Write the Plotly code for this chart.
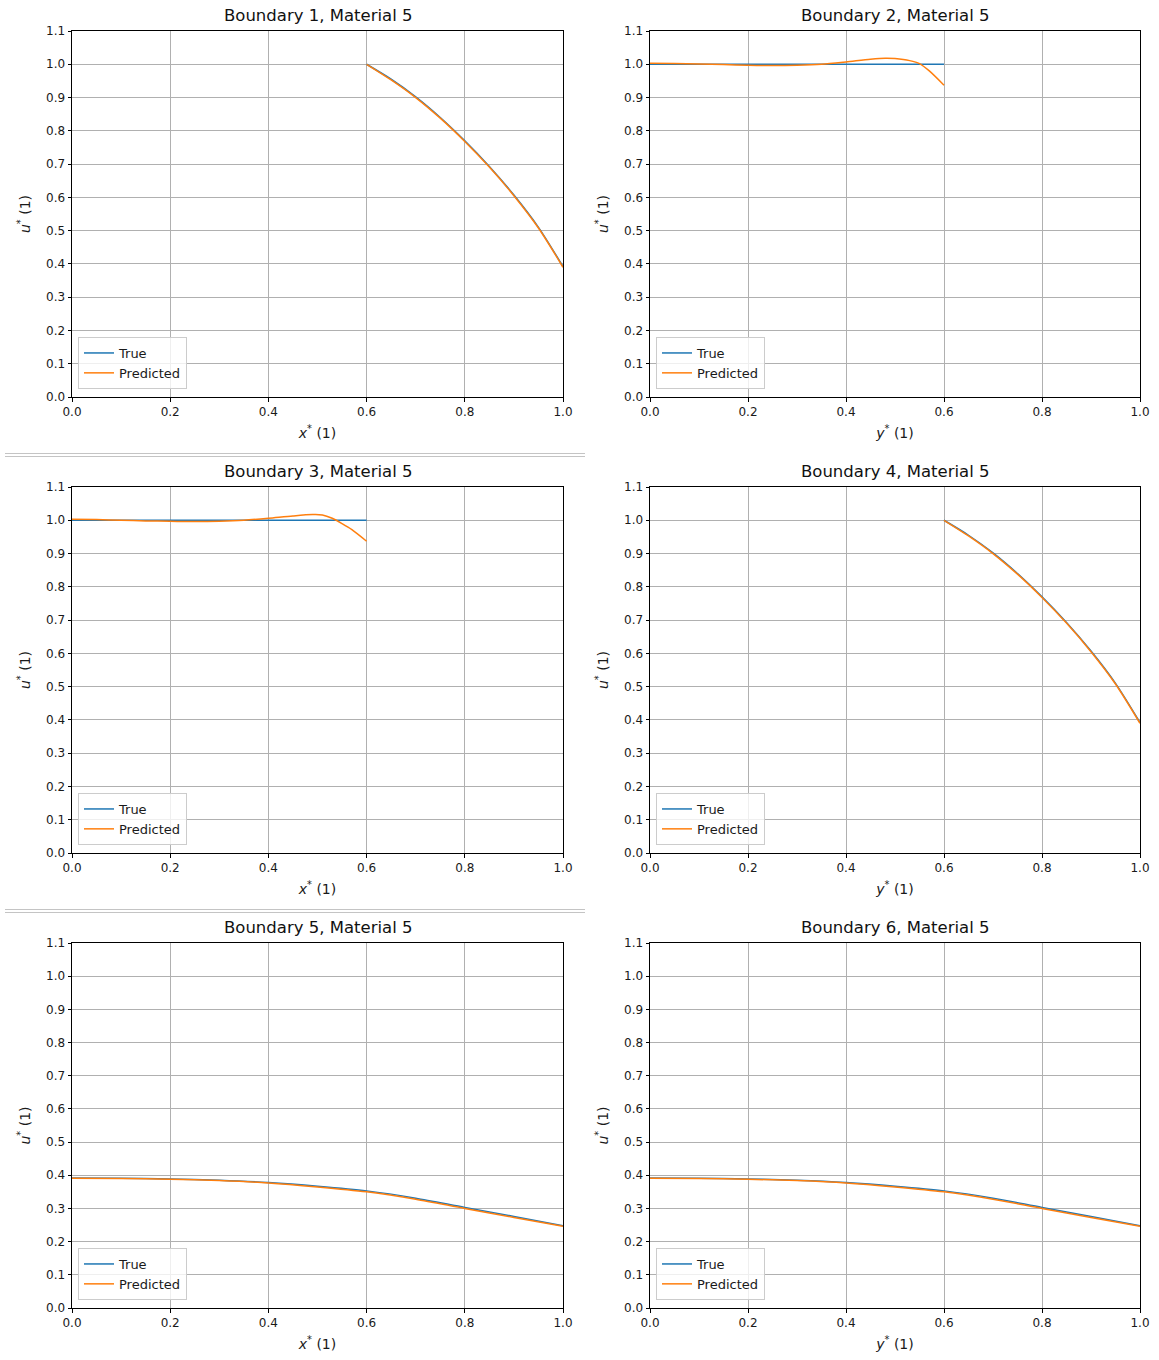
import plotly.graph_objects as go

W, H = 1159, 1360

# ---------------- data ----------------
titles = ["Boundary 1, Material 5", "Boundary 2, Material 5", "Boundary 3, Material 5",
          "Boundary 4, Material 5", "Boundary 5, Material 5", "Boundary 6, Material 5"]
xlabels = ["x", "y", "x", "y", "x", "y"]

b1_x = [0.6, 0.65, 0.7, 0.75, 0.8, 0.85, 0.9, 0.95, 1.0]
b1_true = [1.0, 0.955, 0.902, 0.840, 0.770, 0.693, 0.607, 0.510, 0.392]
b1_pred = [1.0, 0.953, 0.900, 0.838, 0.768, 0.691, 0.605, 0.508, 0.390]

b2_x = [0.0, 0.05, 0.1, 0.15, 0.2, 0.25, 0.3, 0.35, 0.4, 0.45, 0.48, 0.5, 0.53, 0.55, 0.57, 0.6]
b2_true = [1.0] * 16
b2_pred = [1.003, 1.002, 1.001, 0.999, 0.997, 0.996, 0.997, 1.0, 1.007, 1.015, 1.018, 1.017, 1.011, 1.002, 0.980, 0.937]

b3_x = [0.0, 0.05, 0.1, 0.15, 0.2, 0.25, 0.3, 0.35, 0.4, 0.45, 0.49, 0.51, 0.53, 0.55, 0.57, 0.6]
b3_true = [1.0] * 16
b3_pred = [1.003, 1.002, 1.0, 0.998, 0.997, 0.996, 0.997, 1.0, 1.006, 1.013, 1.017, 1.016, 1.006, 0.990, 0.972, 0.937]

b4_x = [0.6, 0.65, 0.7, 0.75, 0.8, 0.85, 0.9, 0.95, 1.0]
b4_true = [1.0, 0.955, 0.902, 0.840, 0.770, 0.693, 0.607, 0.510, 0.392]
b4_pred = [1.0, 0.953, 0.900, 0.838, 0.768, 0.691, 0.605, 0.508, 0.390]

b5_x = [0.0, 0.1, 0.2, 0.3, 0.4, 0.5, 0.6, 0.7, 0.8, 0.9, 1.0]
b5_true = [0.392, 0.391, 0.389, 0.385, 0.378, 0.367, 0.353, 0.331, 0.303, 0.276, 0.248]
b5_pred = [0.391, 0.390, 0.388, 0.384, 0.377, 0.365, 0.350, 0.328, 0.300, 0.273, 0.246]

b6_x = [0.0, 0.1, 0.2, 0.3, 0.4, 0.5, 0.6, 0.7, 0.8, 0.9, 1.0]
b6_true = [0.392, 0.391, 0.389, 0.385, 0.378, 0.367, 0.353, 0.331, 0.303, 0.276, 0.248]
b6_pred = [0.391, 0.390, 0.388, 0.384, 0.377, 0.365, 0.350, 0.328, 0.300, 0.273, 0.246]

series = [(b1_x, b1_true, b1_pred), (b2_x, b2_true, b2_pred), (b3_x, b3_true, b3_pred),
          (b4_x, b4_true, b4_pred), (b5_x, b5_true, b5_pred), (b6_x, b6_true, b6_pred)]

x_ticks = [0.0, 0.2, 0.4, 0.6, 0.8, 1.0]
y_ticks = [round(0.1 * i, 1) for i in range(12)]

# ---------------- layout geometry (pixels) ----------------
cols = [(72, 563), (650, 1140)]
rows = [(31, 397), (487, 853), (943, 1308)]

FONT = "DejaVu Sans"
BLUE, ORANGE = "#1f77b4", "#ff7f0e"
TXT = "#1a1a1a"

fig = go.Figure()
layout = dict(
    width=W, height=H, margin=dict(l=0, r=0, t=0, b=0, autoexpand=False),
    paper_bgcolor="white", plot_bgcolor="white",
    font=dict(family=FONT, size=12, color=TXT),
    annotations=[], shapes=[],
)

for i in range(6):
    r, c = divmod(i, 2)
    x0, x1 = cols[c]
    y0, y1 = rows[r]
    n = i + 1
    xa = "xaxis" if n == 1 else f"xaxis{n}"
    ya = "yaxis" if n == 1 else f"yaxis{n}"
    xref = "x" if n == 1 else f"x{n}"
    yref = "y" if n == 1 else f"y{n}"
    lg = "legend" if n == 1 else f"legend{n}"
    xs, yt, yp = series[i]
    fig.add_trace(go.Scatter(x=xs, y=yt, mode="lines", name="True",
                             line=dict(color=BLUE, width=1.5, shape="spline", smoothing=0.8),
                             xaxis=xref, yaxis=yref, legend=lg))
    fig.add_trace(go.Scatter(x=xs, y=yp, mode="lines", name="Predicted",
                             line=dict(color=ORANGE, width=1.5, shape="spline", smoothing=0.8),
                             xaxis=xref, yaxis=yref, legend=lg))
    common = dict(showline=True, linecolor="black", linewidth=1, mirror=True,
                  ticks="outside", ticklen=3.5, tickwidth=0.8, tickcolor="black",
                  showgrid=True, gridcolor="#b0b0b0", gridwidth=0.8, zeroline=False,
                  automargin=False,
                  tickfont=dict(family=FONT, size=12, color=TXT), tickformat=".1f")
    layout[xa] = dict(common, domain=[x0 / W, x1 / W], range=[0, 1], tickvals=x_ticks,
                      anchor=yref,
                      title=dict(text=f"<i>{xlabels[i]}</i><sup>*</sup> (1)",
                                 font=dict(family=FONT, size=14, color=TXT), standoff=10))
    layout[ya] = dict(common, domain=[1 - y1 / H, 1 - y0 / H], range=[0, 1.1], tickvals=y_ticks,
                      anchor=xref,
                      title=dict(text="<i>u</i><sup>*</sup> (1)",
                                 font=dict(family=FONT, size=14, color=TXT), standoff=12))
    layout["annotations"].append(dict(
        text=titles[i], xref="paper", yref="paper", x=(x0 + x1) / 2 / W, y=1 - (y0 - 4) / H,
        xanchor="center", yanchor="bottom", showarrow=False,
        font=dict(family=FONT, size=16.5, color="#111")))
    layout[lg] = dict(x=(x0 + 6) / W, y=1 - (y1 - 8) / H, xanchor="left", yanchor="bottom",
                      bgcolor="rgba(255,255,255,0.8)", bordercolor="#cccccc", borderwidth=1,
                      font=dict(family=FONT, size=13, color=TXT), itemwidth=30,
                      tracegroupgap=0)

# separator double lines (left column only)
for ysep in (455, 911):
    for dy in (-1.5, 1.5):
        layout["shapes"].append(dict(type="line", xref="paper", yref="paper",
                                     x0=5 / W, x1=585 / W, y0=1 - (ysep + dy) / H, y1=1 - (ysep + dy) / H,
                                     line=dict(color="#c4c4c4", width=1)))

fig.update_layout(**layout)
fig.write_html("out.html", config={"displayModeBar": False},
               post_script="document.body.style.margin='0';document.body.style.overflow='hidden';")
